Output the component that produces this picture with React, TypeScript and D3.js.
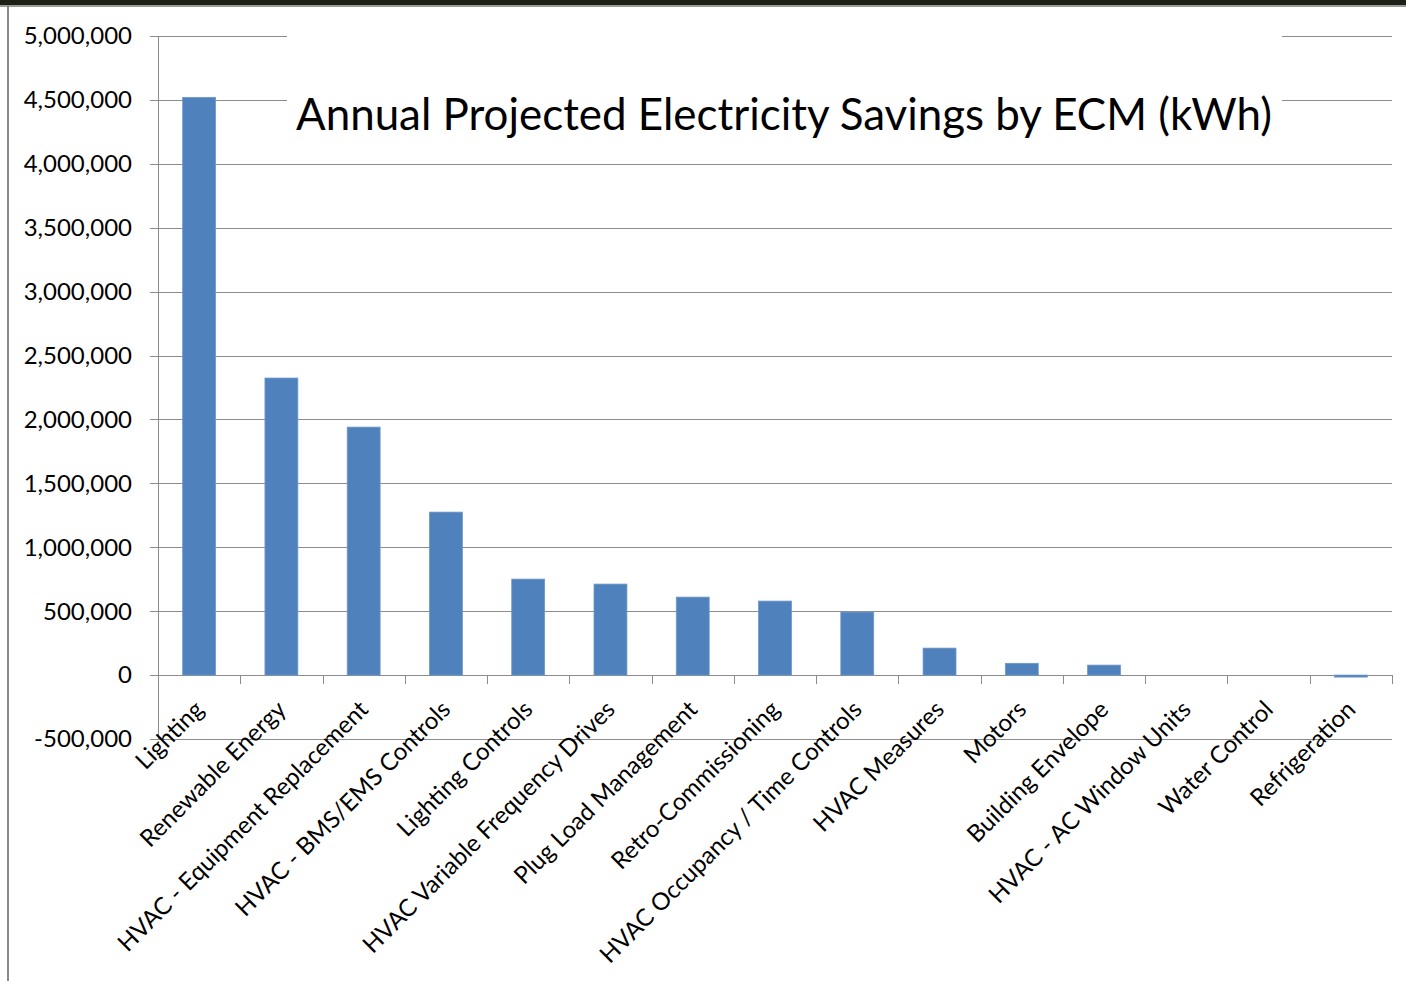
import React from "react";
import * as d3 from "d3";

const categories = [
  "Lighting",
  "Renewable Energy",
  "HVAC - Equipment Replacement",
  "HVAC - BMS/EMS Controls",
  "Lighting Controls",
  "HVAC Variable Frequency Drives",
  "Plug Load Management",
  "Retro-Commissioning",
  "HVAC Occupancy / Time Controls",
  "HVAC Measures",
  "Motors",
  "Building Envelope",
  "HVAC - AC Window Units",
  "Water Control",
  "Refrigeration",
];
const savings = [
  4520000, 2324000, 1940000, 1275000, 751000, 712000, 610000, 579000, 493000,
  211000, 92000, 78000, 0, 0, -15000,
];
const yTicks = [-500000, 0, 500000, 1000000, 1500000, 2000000, 2500000, 3000000, 3500000, 4000000, 4500000, 5000000];
const title = "Annual Projected Electricity Savings by ECM (kWh)";

const W = 1406;
const H = 981;
const FONT = "Lato, 'Open Sans', sans-serif";

export default function App() {
  const x0 = 158;
  const x1 = 1392;
  const y = d3.scaleLinear().domain([-500000, 5000000]).range([739, 36]);
  const x = d3.scaleBand<string>().domain(categories).range([x0, x1]).paddingInner(0.6).paddingOuter(0.3);
  const band = d3.scaleBand<string>().domain(categories).range([x0, x1]);
  const fmt = (v: number) => d3.format(",")(v).replace("\u2212", "-");
  const grid = "#8c8c8c";
  return (
    <svg width={W} height={H} style={{ position: "absolute", left: 0, top: 0, background: "#fff" }}>
      <rect x={0} y={0} width={W} height={5} fill="#1c1f14" />
      <rect x={0} y={5} width={W} height={2} fill="#9a9a9a" />
      <rect x={7} y={5} width={2} height={H} fill="#8a8a8a" />
      {yTicks.map((t) => (
        <g key={t}>
          <line x1={150} x2={x1} y1={Math.round(y(t)) + 0.5} y2={Math.round(y(t)) + 0.5} stroke={grid} strokeWidth={1} />
          <text x={132} y={y(t)} dy="0.35em" textAnchor="end" fontFamily={FONT} fontSize={24} fill="#000">
            {fmt(t)}
          </text>
        </g>
      ))}
      <rect x={287} y={30} width={995} height={105} fill="#fff" />
      <text x={296} y={130} fontFamily={FONT} fontSize={44} fill="#000" textLength={976} lengthAdjust="spacingAndGlyphs">
        {title}
      </text>
      <line x1={x0 + 0.5} x2={x0 + 0.5} y1={36} y2={739} stroke={grid} />
      {categories.map((c, i) => {
        const v = savings[i];
        const top = y(Math.max(v, 0));
        const bot = y(Math.min(v, 0));
        return (
          <rect key={c} x={x(c)} y={top} width={x.bandwidth()} height={Math.max(bot - top, v === 0 ? 0 : 2)} fill="#4f81bd" stroke="#6f97c9" strokeWidth={0.8} />
        );
      })}
      {categories.map((c) => (
        <line key={"t" + c} x1={Math.round(band(c)! + band.bandwidth()) + 0.5} x2={Math.round(band(c)! + band.bandwidth()) + 0.5} y1={y(0)} y2={y(0) + 9} stroke={grid} />
      ))}
      <line x1={x0 + 0.5} x2={x0 + 0.5} y1={y(0)} y2={y(0) + 9} stroke={grid} />
      {categories.map((c) => {
        const cx = band(c)! + band.bandwidth() / 2;
        return (
          <text key={"l" + c} transform={`translate(${cx + 6},${711}) rotate(-45)`} textAnchor="end" fontFamily={FONT} fontSize={24} fill="#000">
            {c}
          </text>
        );
      })}
    </svg>
  );
}
